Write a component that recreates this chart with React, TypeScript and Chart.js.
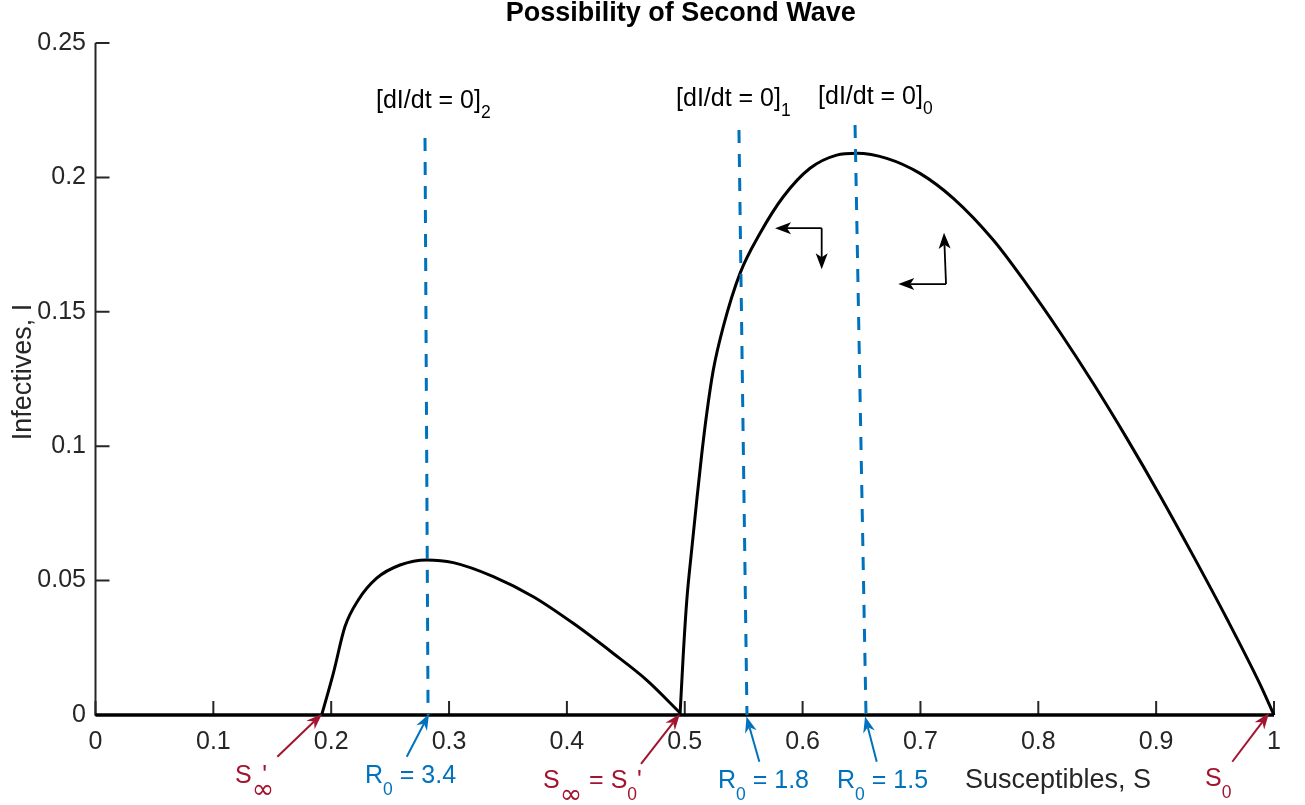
import React, { useEffect, useRef } from "react";
import { Chart, registerables } from "chart.js";

Chart.register(...registerables);

const FONT = "'Liberation Sans', Arial, Helvetica, sans-serif";
const SYMBOL_FONT = "'DejaVu Sans', 'Liberation Sans', sans-serif";
const AXIS_GRAY = "#262626";
const BLUE = "#0072BD";
const RED = "#A2142F";

// ---------- data ----------
const baselineS = [0, 1];
const baselineI = [0, 0];

// second (smaller) wave
const wave2S = [0.1919, 0.2018, 0.2117, 0.223, 0.2386, 0.2584, 0.281, 0.3036, 0.3376, 0.3715, 0.4054, 0.4394, 0.4677, 0.496];
const wave2I = [0.0, 0.0155, 0.0329, 0.0428, 0.0509, 0.0558, 0.0577, 0.0567, 0.0515, 0.044, 0.0341, 0.0229, 0.013, 0.0008];

// first (larger) wave
const wave1S = [0.496, 0.4988, 0.5017, 0.5059, 0.5101, 0.5144, 0.5186, 0.5242, 0.5327, 0.5469, 0.5639, 0.5836, 0.6063, 0.6289, 0.6459, 0.6714, 0.6996, 0.7279, 0.7618, 0.7902, 0.8184, 0.8467, 0.875, 0.9033, 0.9315, 0.9599, 0.9881, 1.0];
const wave1I = [0.0, 0.023, 0.0425, 0.0615, 0.0795, 0.097, 0.112, 0.1283, 0.1445, 0.1643, 0.1792, 0.1928, 0.2034, 0.2083, 0.209, 0.2071, 0.2015, 0.1922, 0.1767, 0.1602, 0.1424, 0.1233, 0.103, 0.0816, 0.0592, 0.0359, 0.0115, 0.0];

// dI/dt = 0 lines
const null2S = [0.2796, 0.2822];
const null2I = [0.2147, 0];
const null1S = [0.546, 0.5528];
const null1I = [0.2176, 0];
const null0S = [0.6445, 0.6538];
const null0I = [0.2195, 0];

const xTickValues = [0, 0.1, 0.2, 0.3, 0.4, 0.5, 0.6, 0.7, 0.8, 0.9, 1];
const xTickLabels = ["0", "0.1", "0.2", "0.3", "0.4", "0.5", "0.6", "0.7", "0.8", "0.9", "1"];
const yTickValues = [0, 0.05, 0.1, 0.15, 0.2, 0.25];
const yTickLabels = ["0", "0.05", "0.1", "0.15", "0.2", "0.25"];

const titleText = "Possibility of Second Wave";
const xLabelText = "Susceptibles, S";
const yLabelText = "Infectives, I";

// ---------- annotations (data coordinates) ----------
type Seg = { t: string; sub?: boolean; dx?: number; sym?: boolean };
type TextAnno = { segs: Seg[]; at: [number, number]; color: string; subOff: number };

const topTexts: TextAnno[] = [
  { segs: [{ t: "[dI/dt = 0]" }, { t: "2", sub: true }], at: [0.238, 0.2258], color: "#000", subOff: 10 },
  { segs: [{ t: "[dI/dt = 0]" }, { t: "1", sub: true }], at: [0.4926, 0.2266], color: "#000", subOff: 10 },
  { segs: [{ t: "[dI/dt = 0]" }, { t: "0", sub: true }], at: [0.6131, 0.2273], color: "#000", subOff: 10 },
];

const bottomTexts: TextAnno[] = [
  { segs: [{ t: "S" }, { t: "∞", sub: true, sym: true }, { t: "'", dx: -12 }], at: [0.1184, -0.0253], color: RED, subOff: 12 },
  { segs: [{ t: "R" }, { t: "0", sub: true }, { t: " = 3.4" }], at: [0.2287, -0.0253], color: BLUE, subOff: 12 },
  { segs: [{ t: "S" }, { t: "∞", sub: true, sym: true }, { t: " = S" }, { t: "0", sub: true }, { t: "'" }], at: [0.3797, -0.0272], color: RED, subOff: 12 },
  { segs: [{ t: "R" }, { t: "0", sub: true }, { t: " = 1.8" }], at: [0.5282, -0.0272], color: BLUE, subOff: 12 },
  { segs: [{ t: "R" }, { t: "0", sub: true }, { t: " = 1.5" }], at: [0.6292, -0.0272], color: BLUE, subOff: 12 },
  { segs: [{ t: "S" }, { t: "0", sub: true }], at: [0.9415, -0.0264], color: RED, subOff: 12 },
];

type ArrowAnno = { from: [number, number]; to: [number, number]; color: string };
const bottomArrows: ArrowAnno[] = [
  { from: [0.1543, -0.0155], to: [0.1922, 0.0004], color: RED },
  { from: [0.2641, -0.0155], to: [0.283, 0.0004], color: BLUE },
  { from: [0.4629, -0.0182], to: [0.4959, 0.0004], color: RED },
  { from: [0.5633, -0.0174], to: [0.5524, -0.0006], color: BLUE },
  { from: [0.6629, -0.0174], to: [0.653, -0.0006], color: BLUE },
  { from: [0.9646, -0.0174], to: [0.9958, 0.0007], color: RED },
];

type PhaseArrow = { corner: [number, number]; heads: [number, number][] };
const phaseArrows: PhaseArrow[] = [
  { corner: [0.6162, 0.1811], heads: [[0.5766, 0.1811], [0.6162, 0.1658]] },
  { corner: [0.7217, 0.1603], heads: [[0.6812, 0.1603], [0.72, 0.1794]] },
];

const xLabelAt: [number, number] = [0.7378, -0.0272];

const toPts = (xs: number[], ys: number[]) => xs.map((x, i) => ({ x, y: ys[i] }));

function drawRich(ctx: CanvasRenderingContext2D, a: TextAnno, x: number, y: number) {
  let cx = x;
  ctx.fillStyle = a.color;
  ctx.textAlign = "left";
  ctx.textBaseline = "alphabetic";
  for (const s of a.segs) {
    if (s.sym) {
      ctx.font = `27px ${SYMBOL_FONT}`;
    } else {
      ctx.font = `${s.sub ? 17.5 : 25}px ${FONT}`;
    }
    cx += s.dx || 0;
    ctx.fillText(s.t, cx, s.sub ? y + (s.sym ? a.subOff + 3 : a.subOff) : y);
    cx += ctx.measureText(s.t).width;
  }
}

function drawArrow(
  ctx: CanvasRenderingContext2D,
  x1: number, y1: number, x2: number, y2: number,
  color: string, lw: number, L: number, W: number, notch: number
) {
  const ang = Math.atan2(y2 - y1, x2 - x1);
  ctx.save();
  ctx.strokeStyle = color;
  ctx.fillStyle = color;
  ctx.lineWidth = lw;
  ctx.lineCap = "butt";
  const nx = x2 - Math.cos(ang) * notch;
  const ny = y2 - Math.sin(ang) * notch;
  ctx.beginPath();
  ctx.moveTo(x1, y1);
  ctx.lineTo(nx, ny);
  ctx.stroke();
  ctx.translate(x2, y2);
  ctx.rotate(ang);
  ctx.beginPath();
  ctx.moveTo(0, 0);
  ctx.lineTo(-L, -W / 2);
  ctx.lineTo(-notch, 0);
  ctx.lineTo(-L, W / 2);
  ctx.closePath();
  ctx.fill();
  ctx.restore();
}

const annotPlugin = {
  id: "annot",
  beforeDatasetsDraw(chart: any) {
    const { ctx, chartArea, scales } = chart;
    const { left, right, top, bottom } = chartArea;
    const xs = scales.x;
    const ys = scales.y;
    ctx.save();
    ctx.strokeStyle = AXIS_GRAY;
    ctx.lineWidth = 2;
    ctx.beginPath();
    ctx.moveTo(left, top);
    ctx.lineTo(left, bottom);
    ctx.lineTo(right, bottom);
    ctx.stroke();
    ctx.beginPath();
    for (const v of xTickValues) {
      const px = xs.getPixelForValue(v);
      ctx.moveTo(px, bottom);
      ctx.lineTo(px, bottom - 14);
    }
    for (const v of yTickValues) {
      const py = ys.getPixelForValue(v);
      ctx.moveTo(left, py);
      ctx.lineTo(left + 14, py);
    }
    ctx.stroke();
    ctx.restore();
  },
  afterDatasetsDraw(chart: any) {
    const { ctx, chartArea, scales } = chart;
    const xs = scales.x;
    const ys = scales.y;
    const P = (p: [number, number]) => [xs.getPixelForValue(p[0]), ys.getPixelForValue(p[1])];
    ctx.save();

    // title
    ctx.fillStyle = "#000";
    ctx.font = `bold 27px ${FONT}`;
    ctx.textAlign = "center";
    ctx.textBaseline = "alphabetic";
    ctx.fillText(titleText, (chartArea.left + chartArea.right) / 2 - 4, 21);

    // y label
    ctx.save();
    ctx.fillStyle = AXIS_GRAY;
    ctx.font = `27px ${FONT}`;
    ctx.translate(31, (chartArea.top + chartArea.bottom) / 2 - 7);
    ctx.rotate(-Math.PI / 2);
    ctx.textAlign = "center";
    ctx.fillText(yLabelText, 0, 0);
    ctx.restore();

    // x label
    {
      const [lx, ly] = P(xLabelAt);
      ctx.fillStyle = AXIS_GRAY;
      ctx.font = `27px ${FONT}`;
      ctx.textAlign = "left";
      ctx.fillText(xLabelText, lx, ly);
    }

    for (const a of topTexts) {
      const [x, y] = P(a.at);
      drawRich(ctx, a, x, y);
    }
    for (const a of bottomTexts) {
      const [x, y] = P(a.at);
      drawRich(ctx, a, x, y);
    }
    for (const a of bottomArrows) {
      const [x1, y1] = P(a.from);
      const [x2, y2] = P(a.to);
      drawArrow(ctx, x1, y1, x2, y2, a.color, 2, 16, 12, 11);
    }
    for (const a of phaseArrows) {
      const [cx, cy] = P(a.corner);
      for (const h of a.heads) {
        const [hx, hy] = P(h);
        drawArrow(ctx, cx, cy, hx, hy, "#000", 1.8, 16, 12, 12);
      }
    }
    ctx.restore();
  },
};

export default function App() {
  const ref = useRef<HTMLCanvasElement>(null);
  useEffect(() => {
    const canvas = ref.current;
    if (!canvas) return;
    const lineBase = { pointRadius: 0, pointHoverRadius: 0, fill: false, clip: false as any };
    const chart = new Chart(canvas, {
      type: "line",
      data: {
        datasets: [
          { ...lineBase, label: "[dI/dt = 0]2", data: toPts(null2S, null2I), borderColor: BLUE, borderWidth: 3, borderDash: [13, 11] },
          { ...lineBase, label: "[dI/dt = 0]1", data: toPts(null1S, null1I), borderColor: BLUE, borderWidth: 3, borderDash: [13, 11] },
          { ...lineBase, label: "[dI/dt = 0]0", data: toPts(null0S, null0I), borderColor: BLUE, borderWidth: 3, borderDash: [13, 11] },
          { ...lineBase, label: "Second wave", data: toPts(wave2S, wave2I), borderColor: "#000", borderWidth: 3, cubicInterpolationMode: "monotone" },
          { ...lineBase, label: "First wave", data: toPts(wave1S, wave1I), borderColor: "#000", borderWidth: 3, cubicInterpolationMode: "monotone" },
          { ...lineBase, label: "I = 0", data: toPts(baselineS, baselineI), borderColor: "#000", borderWidth: 3.5 },
        ],
      },
      options: {
        responsive: false,
        animation: false,
        layout: { padding: { left: 0, right: 31, top: 43, bottom: 0 } },
        plugins: {
          legend: { display: false },
          tooltip: { enabled: false },
          title: { display: false },
        },
        scales: {
          x: {
            type: "linear",
            min: 0,
            max: 1,
            afterBuildTicks: (s: any) => {
              s.ticks = xTickValues.map((v) => ({ value: v }));
            },
            afterFit: (s: any) => {
              s.height = 90;
            },
            grid: { display: false, drawTicks: false },
            border: { display: false },
            ticks: {
              callback: (_v: any, i: number) => xTickLabels[i],
              font: { family: FONT, size: 25 },
              color: AXIS_GRAY,
              padding: 12,
              maxRotation: 0,
              autoSkip: false,
            },
          },
          y: {
            type: "linear",
            min: 0,
            max: 0.25,
            afterBuildTicks: (s: any) => {
              s.ticks = yTickValues.map((v) => ({ value: v }));
            },
            afterFit: (s: any) => {
              s.width = 95.5;
            },
            grid: { display: false, drawTicks: false },
            border: { display: false },
            ticks: {
              callback: (_v: any, i: number) => yTickLabels[i],
              font: { family: FONT, size: 25 },
              color: AXIS_GRAY,
              padding: 9.5,
              autoSkip: false,
            },
          },
        },
      } as any,
      plugins: [annotPlugin],
    });
    return () => chart.destroy();
  }, []);
  return (
    <div style={{ position: "fixed", left: 0, top: 0, width: 1305, height: 805, background: "#fff" }}>
      <canvas ref={ref} width={1305} height={805} style={{ display: "block" }} />
    </div>
  );
}
